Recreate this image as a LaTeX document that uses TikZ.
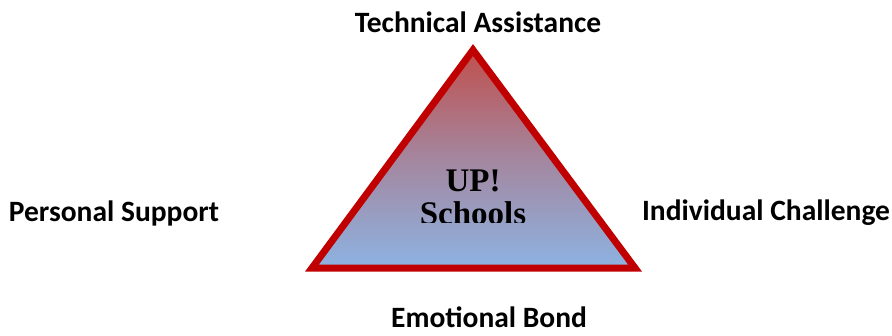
\documentclass[tikz,border=0pt]{standalone}
\usepackage{fontspec}
\setmainfont{Carlito}
\newfontfamily\serifb{Liberation Serif}
\definecolor{tred}{HTML}{C00000}
\definecolor{gtop}{HTML}{C0504D}
\definecolor{gbot}{HTML}{8DB3E2}
\tikzset{
  lbl/.style={font=\fontsize{29.5}{34}\selectfont\bfseries, inner sep=0pt},
  ctr/.style={font=\serifb\fontsize{33}{38}\selectfont\bfseries, inner sep=0pt, align=center}
}
\begin{document}
\begin{tikzpicture}[x=1pt,y=-1pt]
\useasboundingbox (0,0) rectangle (892,335);
\coordinate (A) at (473,50);
\coordinate (B) at (312,268);
\coordinate (C) at (635,268);
\shade[top color=gtop, bottom color=gbot, middle color=gtop!45!gbot] (A) -- (B) -- (C) -- cycle;
\draw[tred, line width=7pt, line join=miter] (A) -- (B) -- (C) -- cycle;
\begin{scope}
\clip (300,150) rectangle (650,222);
\node[ctr] (up) at (473,181) {UP!};
\node[ctr] (sc) at (473,213) {Schools};
\end{scope}
\node[lbl] (ta) at (478,22) {Technical Assistance};
\node[lbl] (ps) at (114,213) {Personal Support};
\node[lbl] (ic) at (766,213) {Individual Challenge};
\node[lbl, anchor=base, text depth=0pt] (eb) at (489,327) {Emotional Bond};
\end{tikzpicture}
\end{document}
